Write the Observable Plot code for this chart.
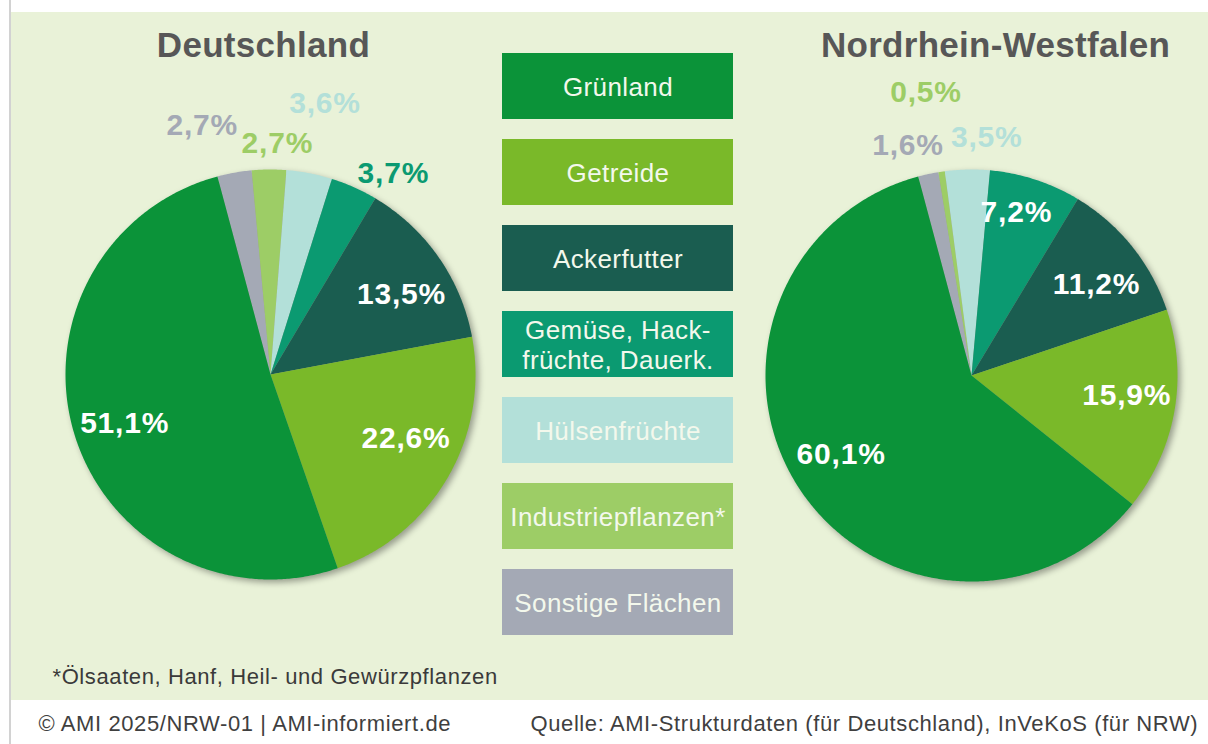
<!DOCTYPE html>
<html>
<head>
<meta charset="utf-8">
<script src="https://cdn.jsdelivr.net/npm/d3@7"></script>
<script src="https://cdn.jsdelivr.net/npm/@observablehq/plot@0.6"></script>
<style>
  html, body { margin: 0; padding: 0; background: #ffffff; }
  #wrap { position: relative; width: 1208px; height: 744px; overflow: hidden; }
  #panel { position: absolute; left: 11px; top: 12px; width: 1197px; height: 688px; background: #e9f2d8; }
  #edge { position: absolute; left: 9px; top: 0; width: 2px; height: 744px; background: #d2d2d2; }
  #pies, #chart { position: absolute; left: 0; top: 0; }
  #pies svg > g { filter: drop-shadow(3px 3px 3px rgba(0,0,0,0.35)); }
  #chart g[font-size="30"] text { letter-spacing: 0.8px; }
  #chart g[font-size="35"] text { letter-spacing: 0.3px; }
  #chart g[font-size="26"] text { letter-spacing: 0.4px; }
  #chart g[font-size="22"] text { letter-spacing: 0.6px; }
</style>
</head>
<body>
<div id="wrap">
  <div id="panel"></div>
  <div id="edge"></div>
  <div id="pies"></div>
  <div id="chart"></div>
</div>
<script>
// ---- data ----
const categories = ["Grünland", "Getreide", "Ackerfutter", "Gemüse, Hackfrüchte, Dauerkulturen", "Hülsenfrüchte", "Industriepflanzen*", "Sonstige Flächen"];
const legendLabels = ["Grünland", "Getreide", "Ackerfutter", "Gemüse, Hack-\nfrüchte, Dauerk.", "Hülsenfrüchte", "Industriepflanzen*", "Sonstige Flächen"];
const valuesDeutschland = [51.1, 22.6, 13.5, 3.7, 3.6, 2.7, 2.7];
const valuesNRW = [60.1, 15.9, 11.2, 7.2, 3.5, 0.5, 1.6];
const regionTitles = ["Deutschland", "Nordrhein-Westfalen"];
const footnote = "*Ölsaaten, Hanf, Heil- und Gewürzpflanzen";
const footerLeft = "© AMI 2025/NRW-01 | AMI-informiert.de";
const footerRight = "Quelle: AMI-Strukturdaten (für Deutschland), InVeKoS (für NRW)";

// ---- styles / layout ----
const colors = ["#0b9339", "#7ab929", "#1a5d50", "#0b9a71", "#b3e0d9", "#9dcd66", "#a4a9b5"];
const startAngle = -15; // degrees, clockwise from 12 o'clock
const pies = [
  {title: regionTitles[0], values: valuesDeutschland, cx: 270, cy: 374, r: 205, titleX: 263,
   nudge: [-1.4, -5, 3.3, 7.3, 0.4, 2.1, -5.2], k: [0.75, 0.73, 0.75, 1.15, 1.35, 1.13, 1.26]},
  {title: regionTitles[1], values: valuesNRW, cx: 971, cy: 375, r: 206, titleX: 995,
   nudge: [2, -2.6, 2.8, -2.7, 4.8, -0.8, -3.3], k: [0.74, 0.76, 0.75, 0.82, 1.16, 1.39, 1.16]}
];

const rad = Math.PI / 180;
const sliceFeatures = [];
const labels = [];
pies.forEach((p, pi) => {
  const total = d3.sum(p.values);
  const order = d3.range(categories.length).reverse(); // clockwise: reverse of legend order
  let a = startAngle;
  order.forEach(ci => {
    const span = p.values[ci] / total * 360;
    const a0 = a, a1 = a + span;
    const ring = [[p.cx, p.cy]];
    const n = Math.max(2, Math.ceil(span / 0.5) + 1);
    for (let j = 0; j < n; j++) {
      const t = (a0 + (a1 - a0) * j / (n - 1)) * rad;
      ring.push([p.cx + p.r * Math.sin(t), p.cy - p.r * Math.cos(t)]);
    }
    ring.push([p.cx, p.cy]);
    sliceFeatures.push({type: "Feature", properties: {cat: categories[ci]}, geometry: {type: "Polygon", coordinates: [ring]}});
    const mid = ((a0 + a1) / 2 + p.nudge[ci]) * rad;
    const k = p.k[ci];
    labels.push({
      cat: categories[ci],
      text: p.values[ci].toFixed(1).replace(".", ",") + "%",
      inside: k < 1,
      x: p.cx + k * p.r * Math.sin(mid),
      y: p.cy - k * p.r * Math.cos(mid)
    });
    a = a1;
  });
});

const legendData = categories.map((c, i) => ({cat: c, label: legendLabels[i], i}));
const legX1 = 502, legX2 = 733, legTop = 53, legStep = 86, legH = 66;
const W = 1208, H = 744;
const font = "'Liberation Sans', Arial, sans-serif";

// pie slices (planar identity projection in the same page units)
const pieChart = Plot.plot({
  width: W,
  height: H,
  margin: 0,
  projection: {type: "identity", domain: {type: "MultiPoint", coordinates: [[0, 0], [W, H]]}},
  color: {domain: categories, range: colors},
  style: {background: "transparent"},
  marks: [
    Plot.geo(sliceFeatures, {fill: d => d.properties.cat, stroke: "none"})
  ]
});
document.getElementById("pies").appendChild(pieChart);

const chart = Plot.plot({
  width: W,
  height: H,
  margin: 0,
  x: {domain: [0, W], range: [0, W], axis: null},
  y: {domain: [0, H], range: [0, H], axis: null},
  color: {domain: categories, range: colors},
  style: {background: "transparent", fontFamily: font},
  marks: [
    Plot.text(labels.filter(d => d.inside), {x: "x", y: "y", text: "text", fill: "white", fontSize: 30, fontWeight: "bold", fontFamily: font}),
    Plot.text(labels.filter(d => !d.inside), {x: "x", y: "y", text: "text", fill: "cat", fontSize: 30, fontWeight: "bold", fontFamily: font}),
    Plot.text(pies, {x: "titleX", y: () => 45, text: "title", fill: "#575757", fontSize: 35, fontWeight: "bold", fontFamily: font}),
    Plot.rect(legendData, {x1: () => legX1, x2: () => legX2, y1: d => legTop + d.i * legStep, y2: d => legTop + d.i * legStep + legH, fill: "cat"}),
    Plot.text(legendData, {x: () => (legX1 + legX2) / 2, y: d => legTop + d.i * legStep + legH / 2, text: "label", fill: "#f3f8ec", fontSize: 26, lineHeight: 1.15, fontFamily: font}),
    Plot.text([footnote], {x: () => 52, y: () => 676, text: d => d, textAnchor: "start", fill: "#3a3a3a", fontSize: 22, fontFamily: font}),
    Plot.text([footerLeft], {x: () => 38, y: () => 723, text: d => d, textAnchor: "start", fill: "#3f3f3f", fontSize: 22, fontFamily: font}),
    Plot.text([footerRight], {x: () => 530, y: () => 723, text: d => d, textAnchor: "start", fill: "#3f3f3f", fontSize: 22, fontFamily: font})
  ]
});
document.getElementById("chart").appendChild(chart);
</script>
</body>
</html>
